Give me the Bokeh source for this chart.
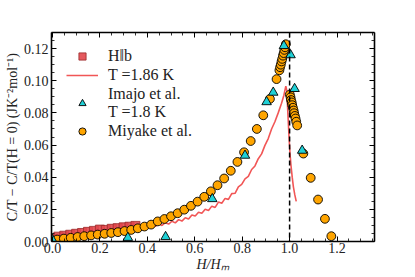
from bokeh.plotting import figure
from bokeh.models import (LinearAxis, FixedTicker, PrintfTickFormatter, Span,
                          Legend, LegendItem, Range1d)
from bokeh.embed import file_html
from bokeh.resources import INLINE

# ---------------- data ----------------
hb_x = [0.000, 0.025, 0.050, 0.075, 0.100, 0.125, 0.150, 0.175, 0.200,
        0.225, 0.250, 0.275, 0.300, 0.325, 0.350]
hb_y = [0.0015, 0.0030, 0.0036, 0.0042, 0.0048, 0.0053, 0.0060, 0.0066,
        0.0074, 0.0072, 0.0079, 0.0083, 0.0088, 0.0092, 0.0097]

line_x = [0.000, 0.014, 0.028, 0.042, 0.056, 0.070, 0.084, 0.098, 0.112, 0.126,
          0.140, 0.154, 0.168, 0.182, 0.196, 0.210, 0.224, 0.238, 0.252, 0.266,
          0.280, 0.294, 0.308, 0.322, 0.336, 0.350, 0.364, 0.378, 0.392, 0.406,
          0.420, 0.434, 0.448, 0.462, 0.476, 0.490, 0.504, 0.518, 0.532, 0.546,
          0.560, 0.574, 0.588, 0.602, 0.616, 0.630, 0.644, 0.658, 0.672, 0.686,
          0.700, 0.714, 0.728, 0.742, 0.756, 0.770, 0.784, 0.798, 0.812, 0.826,
          0.840, 0.854, 0.868, 0.882, 0.896, 0.910, 0.924, 0.938, 0.952, 0.966,
          0.976, 0.984, 0.988, 0.991, 0.994, 0.998, 1.002, 1.006, 1.011, 1.016,
          1.022, 1.028]
line_y = [0.0025, 0.0020, 0.0035, 0.0028, 0.0040, 0.0033, 0.0045, 0.0038, 0.0052, 0.0044,
          0.0058, 0.0050, 0.0066, 0.0056, 0.0072, 0.0061, 0.0076, 0.0066, 0.0080, 0.0070,
          0.0085, 0.0075, 0.0090, 0.0079, 0.0094, 0.0083, 0.0098, 0.0087, 0.0101, 0.0090,
          0.0104, 0.0094, 0.0110, 0.0100, 0.0117, 0.0108, 0.0126, 0.0116, 0.0136, 0.0127,
          0.0148, 0.0140, 0.0165, 0.0158, 0.0182, 0.0175, 0.0200, 0.0193, 0.0220, 0.0212,
          0.0245, 0.0238, 0.0268, 0.0262, 0.0298, 0.0300, 0.0340, 0.0355, 0.0390, 0.0405,
          0.0448, 0.0470, 0.0515, 0.0545, 0.0598, 0.0640, 0.0700, 0.0745, 0.0800, 0.0860,
          0.0910, 0.0966, 0.0940, 0.0850, 0.0760, 0.0640, 0.0540, 0.0470, 0.0400, 0.0340,
          0.0290, 0.0250]

imajo_x = [0.000, 0.318, 0.477, 0.674, 0.812, 0.903, 0.931, 0.976, 1.004, 1.021, 1.053]
imajo_y = [0.0010, 0.0024, 0.0029, 0.0265, 0.0535, 0.0868, 0.0927, 0.1217, 0.1160, 0.0950, 0.0566]

miyake_x = [0.020, 0.048, 0.077, 0.106, 0.134, 0.163, 0.191, 0.220, 0.248, 0.276,
            0.304, 0.332, 0.360, 0.388, 0.416, 0.444, 0.472, 0.500, 0.528, 0.556,
            0.584, 0.612, 0.640, 0.668, 0.696, 0.724, 0.752, 0.780, 0.808, 0.836,
            0.862, 0.889, 0.917, 0.945,
            0.957, 0.960, 0.963, 0.966, 0.969, 0.972, 0.975, 0.978, 0.981, 0.984,
            1.001, 1.004, 1.006, 1.009, 1.011, 1.014, 1.017, 1.019, 1.022, 1.025,
            1.028, 1.032,
            1.058, 1.089, 1.120, 1.149, 1.176]
miyake_y = [0.0012, 0.0018, 0.0023, 0.0028, 0.0033, 0.0038, 0.0043, 0.0048, 0.0053, 0.0058,
            0.0065, 0.0072, 0.0082, 0.0093, 0.0105, 0.0125, 0.0140, 0.0157, 0.0176, 0.0198,
            0.0222, 0.0248, 0.0278, 0.0312, 0.0350, 0.0392, 0.0440, 0.0495, 0.0555, 0.0625,
            0.0700, 0.0785, 0.0887, 0.1010,
            0.1065, 0.1084, 0.1100, 0.1120, 0.1136, 0.1156, 0.1172, 0.1192, 0.1208, 0.1227,
            0.0914, 0.0897, 0.0880, 0.0865, 0.0848, 0.0832, 0.0815, 0.0798, 0.0781, 0.0765,
            0.0745, 0.0722,
            0.0547, 0.0396, 0.0261, 0.0141, 0.0033]

x_ticks = [0.0, 0.2, 0.4, 0.6, 0.8, 1.0, 1.2]
x_minor = [i * 0.05 for i in range(0, 28)]
y_ticks = [0.00, 0.02, 0.04, 0.06, 0.08, 0.10, 0.12]
y_minor = [i * 0.005 for i in range(0, 27)]
hm_position = 1.0

SERIF = "Liberation Serif"
TXT = "#222222"

p = figure(frame_width=323, frame_height=209, x_range=Range1d(-0.004, 1.358),
           y_range=Range1d(0.0, 0.13), output_backend="svg",
           toolbar_location=None, min_border_left=51, min_border_top=32,
           min_border_right=41, min_border_bottom=36)
p.xgrid.visible = False
p.ygrid.visible = False
p.outline_line_color = None
p.background_fill_color = "white"
p.border_fill_color = "white"

bottom = p.xaxis[0]
left = p.yaxis[0]

bottom.axis_label = "H/Hₘ"
left.axis_label = "C/T − C/T(H = 0) (JK⁻²mol⁻¹)"
bottom.ticker = FixedTicker(ticks=x_ticks, minor_ticks=x_minor)
left.ticker = FixedTicker(ticks=y_ticks, minor_ticks=y_minor)
bottom.formatter = PrintfTickFormatter(format="%.1f")
left.formatter = PrintfTickFormatter(format="%.2f")

top = LinearAxis(ticker=FixedTicker(ticks=x_ticks, minor_ticks=x_minor),
                 major_label_text_color=None, major_label_text_font_size="1px",
                 major_label_standoff=0)
right = LinearAxis(ticker=FixedTicker(ticks=y_ticks, minor_ticks=y_minor),
                   major_label_text_color=None, major_label_text_font_size="1px",
                   major_label_standoff=0)
p.add_layout(top, "above")
p.add_layout(right, "right")

for ax in [bottom, left, top, right]:
    ax.major_tick_in = 5
    ax.major_tick_out = 0
    ax.minor_tick_in = 3
    ax.minor_tick_out = 0
    ax.axis_line_width = 1.6
    ax.axis_line_color = "black"
    ax.major_tick_line_color = "black"
    ax.minor_tick_line_color = "black"
    ax.major_tick_line_width = 1
    ax.minor_tick_line_width = 0.8

for ax in [bottom, left]:
    ax.major_label_text_font = SERIF
    ax.major_label_text_color = TXT
    ax.major_label_text_font_size = "14px"
    ax.axis_label_text_font = SERIF
    ax.axis_label_text_font_size = "14px"
    ax.axis_label_text_color = TXT
bottom.major_label_standoff = 1
bottom.axis_label_standoff = 1
left.major_label_standoff = 3
left.axis_label_standoff = 1
bottom.axis_label_text_font_style = "italic"
left.axis_label_text_font_style = "normal"

# dashed line at H = Hm
p.add_layout(Span(location=hm_position, dimension="height", line_color="black",
                  line_dash="5 3", line_width=1.5))

# data glyphs
ln = p.line(line_x, line_y, line_color="#f04444", line_width=1.6, line_alpha=0.9)
sq = p.scatter(hb_x, hb_y, marker="square", size=9, fill_color="#e2474d",
               fill_alpha=0.9, line_color="#9a2a2a", line_width=0.8)
ci = p.scatter(miyake_x, miyake_y, marker="circle", size=8.8, fill_color="#ffa500",
               line_color="black", line_width=0.9)
tr = p.scatter(imajo_x, imajo_y, marker="triangle", size=9.5, fill_color="#1fd0d6",
               line_color="black", line_width=0.9)

legend = Legend(items=[
    LegendItem(label="H‖b", renderers=[sq]),
    LegendItem(label="T =1.86 K", renderers=[ln]),
    LegendItem(label="Imajo et al.\nT =1.8 K", renderers=[tr]),
    LegendItem(label="Miyake et al.", renderers=[ci]),
], location="top_left")
legend.border_line_color = None
legend.background_fill_alpha = 0
legend.label_text_font = SERIF
legend.label_text_font_size = "16px"
legend.label_text_color = TXT
legend.glyph_width = 32
legend.glyph_height = 18
legend.label_height = 18
legend.label_standoff = 10
legend.spacing = 1
legend.padding = 10
legend.margin = 15
p.add_layout(legend)

open("out.html", "w").write(file_html(p, INLINE))
